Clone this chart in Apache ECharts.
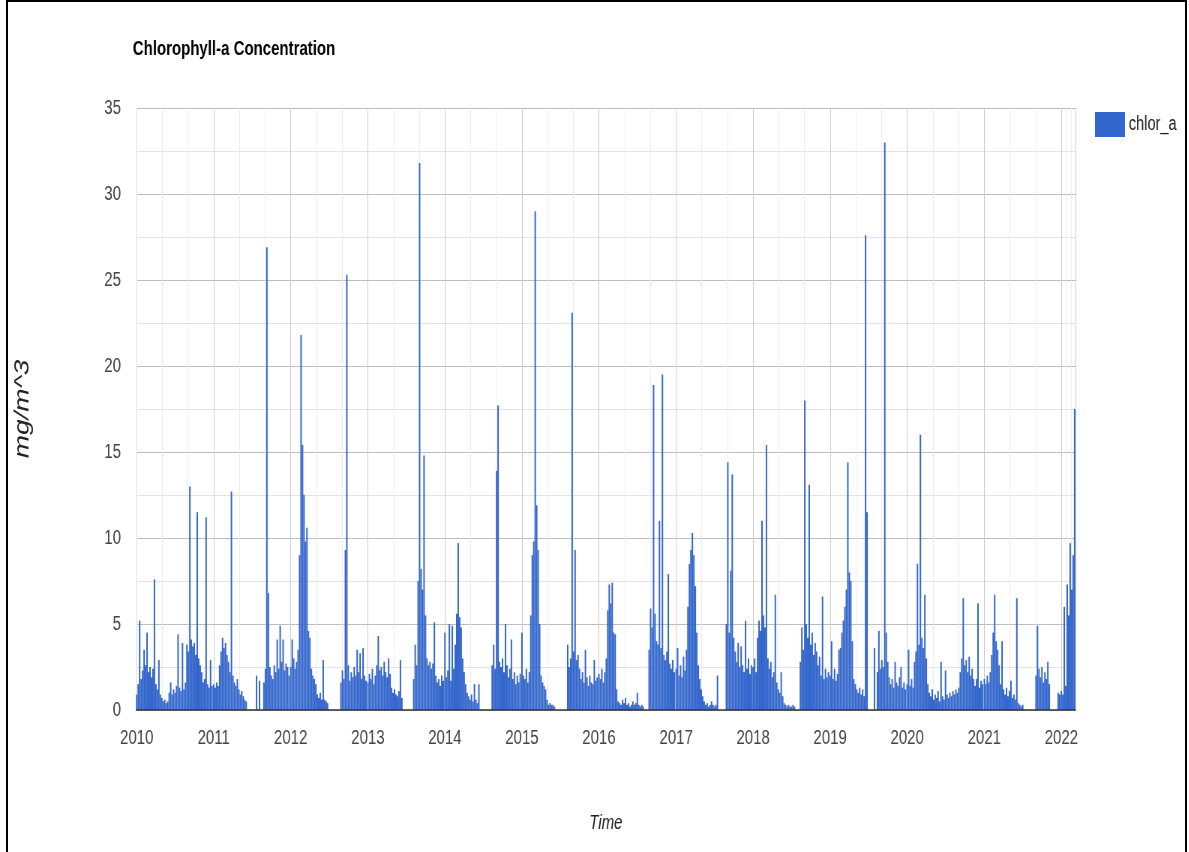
<!DOCTYPE html>
<html><head><meta charset="utf-8">
<script src="https://cdn.jsdelivr.net/npm/echarts@6/dist/echarts.min.js"></script>
<style>
html,body{margin:0;padding:0;background:#fff;overflow:hidden;width:1189px;height:852px;}
#chart{position:absolute;left:0;top:0;width:1585px;height:852px;transform:scaleX(0.75);transform-origin:0 0;}
#frame{position:absolute;left:6px;top:0;width:1181px;height:852px;border-left:2px solid #000;border-top:2px solid #000;border-right:2px solid #000;box-sizing:border-box;pointer-events:none;}
</style></head><body>
<div id="chart"></div><div id="frame"></div>
<script>
// Weekly chlorophyll-a values (mg/m^3), 52 weeks per year starting Jan 1; null = no data
const years = [2010,2011,2012,2013,2014,2015,2016,2017,2018,2019,2020,2021,2022];
const v2010 = [0.9,1.5,5.2,1.8,2.3,3.5,2.6,4.5,2.2,2.5,1.9,2.4,7.6,1.5,1.2,2.9,0.9,0.7,0.5,0.6,0.4,0.5,1.0,1.6,0.9,1.2,1.0,1.4,4.4,1.3,1.1,3.9,1.2,1.6,3.8,3.4,13.0,4.1,3.7,3.9,3.2,11.5,3.0,2.6,2.2,1.6,1.8,11.2,1.5,1.3,2.9,1.4];
const v2011 = [1.5,1.3,1.6,1.4,2.6,3.4,4.2,3.6,3.9,3.2,2.8,2.2,12.7,2.0,1.6,1.4,1.8,1.2,0.9,1.1,0.8,0.6,0.5,null,null,null,null,null,null,2.0,null,1.7,null,null,1.6,2.4,26.9,6.8,2.5,2.0,1.8,2.6,2.2,4.1,2.4,4.9,2.8,4.1,2.3,2.7,2.5,2.0];
const v2012 = [2.5,4.1,3.0,2.4,2.8,3.5,9.0,21.8,15.4,12.5,9.8,10.6,4.6,4.2,2.4,2.0,1.8,1.5,0.9,0.7,1.0,0.6,2.9,0.6,0.5,0.4,null,null,null,null,null,null,null,null,1.6,2.3,1.8,9.3,25.3,2.6,1.7,2.2,1.9,2.5,2.0,3.5,2.2,3.3,1.8,3.6,2.0,1.7];
const v2013 = [1.6,2.1,1.8,2.4,1.5,2.0,2.6,4.3,2.3,2.5,2.0,2.8,2.2,1.9,3.0,2.1,1.3,1.0,1.2,0.9,0.8,1.1,2.9,0.7,null,null,null,null,null,null,null,1.8,3.8,2.6,7.5,31.8,8.2,7.0,14.8,5.5,3.0,2.6,2.8,2.4,2.7,5.1,2.0,1.6,1.8,1.4,2.0,1.7];
const v2014 = [4.5,1.9,2.3,5.0,1.7,4.9,2.4,3.8,5.6,9.7,5.4,4.8,3.0,2.2,1.5,1.0,0.8,0.6,0.9,0.5,1.5,0.6,0.4,1.5,null,null,null,null,null,null,null,null,2.6,3.8,2.4,13.9,17.7,2.8,2.5,3.0,2.2,5.0,2.6,1.9,2.4,4.1,1.8,2.2,1.5,2.0,1.6,2.1];
const v2015 = [4.5,2.0,1.8,2.4,1.6,2.2,5.5,9.0,9.8,29.0,11.9,9.3,5.0,2.0,1.6,1.4,1.2,0.6,0.3,0.4,0.3,0.3,0.2,null,null,null,null,null,null,null,null,3.8,2.5,3.0,23.1,3.4,9.3,2.9,3.2,2.4,1.8,2.2,1.6,3.5,1.9,1.4,2.0,1.6,1.5,2.9,1.7,1.9];
const v2016 = [2.1,1.8,2.4,1.6,2.2,3.0,5.8,7.3,6.2,7.4,4.5,4.4,1.2,0.5,0.4,0.3,0.6,0.4,0.7,0.3,0.4,0.2,0.3,0.5,0.3,0.4,1.0,0.3,0.2,0.3,0.2,null,null,null,3.5,5.9,4.8,18.9,5.6,4.0,3.8,11.0,3.6,19.5,3.2,2.9,3.4,7.9,2.7,2.4,2.9,2.2];
const v2017 = [2.4,3.6,2.0,2.6,1.9,3.1,2.3,3.5,6.0,8.5,9.3,10.3,9.0,7.2,4.5,2.6,1.8,1.2,0.8,0.5,0.3,0.4,0.2,0.3,0.5,0.3,0.2,0.3,2.0,null,null,null,null,null,5.0,14.4,4.5,8.1,13.7,4.2,3.4,2.8,3.9,2.5,3.7,2.6,2.2,5.2,2.4,3.0,2.1,2.6];
const v2018 = [2.5,3.0,2.2,4.2,5.2,4.6,11.0,5.5,4.8,15.4,3.0,2.4,2.8,1.9,2.2,6.7,1.6,1.2,1.0,2.2,0.8,0.4,0.3,0.2,0.3,0.2,0.2,0.3,0.2,null,null,null,2.8,4.8,3.5,18.0,5.0,4.2,13.1,3.8,4.5,3.2,3.9,3.4,2.6,3.1,2.0,6.6,1.8,2.4,1.9,2.2];
const v2019 = [2.0,4.0,1.8,2.4,1.7,2.1,3.5,3.6,4.5,5.2,6.0,7.0,14.4,8.0,7.5,4.0,1.8,1.5,1.2,1.0,1.3,0.9,1.2,0.8,27.6,11.5,null,null,null,null,3.6,null,2.2,4.6,2.4,2.9,2.5,33.0,4.5,2.8,1.9,1.5,1.8,1.3,2.8,1.6,1.4,1.9,2.5,1.3,1.6,1.2];
const v2020 = [1.5,3.5,1.4,1.8,1.3,2.8,3.4,8.5,3.8,16.0,4.2,3.6,6.7,3.0,1.5,1.0,0.8,1.2,0.6,0.9,0.7,1.1,0.5,2.8,0.8,0.6,2.3,0.9,0.7,1.0,0.8,1.1,0.9,1.2,1.0,1.3,2.2,3.0,6.5,2.6,2.9,2.2,3.1,2.0,2.4,1.8,1.4,1.8,6.2,1.3,1.7,1.5];
const v2021 = [1.8,1.5,2.0,1.6,2.2,3.2,4.5,6.7,4.0,3.5,2.6,1.5,4.0,1.2,0.9,1.3,0.8,1.1,1.7,0.7,0.9,0.6,6.5,0.4,0.3,0.2,0.3,null,null,null,null,null,null,null,null,2.0,4.9,2.4,1.9,2.5,1.6,2.2,1.8,2.8,1.5,null,null,null,null,null,1.0,0.9];
const v2022 = [1.1,0.9,6.0,1.4,7.3,5.5,9.7,7.0,9.0,17.5];
const yearValues = [v2010,v2011,v2012,v2013,v2014,v2015,v2016,v2017,v2018,v2019,v2020,v2021,v2022];
const yTicks = [0,5,10,15,20,25,30,35];

const seriesData = [];
years.forEach((y, i) => {
  yearValues[i].forEach((v, w) => {
    if (v !== null) seriesData.push([new Date(y, 0, 1 + w * 7).getTime(), v]);
  });
});

const font = "'Liberation Sans', Arial, sans-serif";
const chart = echarts.init(document.getElementById('chart'));
chart.setOption({
  animation: false,
  backgroundColor: '#ffffff',
  title: {
    text: 'Chlorophyll-a Concentration',
    left: 172, top: 34,
    textStyle: {fontFamily: font, fontSize: 20, fontWeight: 'bold', color: '#000'}
  },
  legend: {
    data: ['chlor_a'],
    orient: 'vertical',
    left: 1455, top: 107,
    icon: 'rect', itemWidth: 40, itemHeight: 25, itemGap: 6,
    textStyle: {fontFamily: font, fontSize: 19.5, color: '#222'}
  },
  grid: {left: 181.3, right: 150.6, top: 108, bottom: 142, containLabel: false},
  xAxis: {
    type: 'time',
    min: new Date(2010, 0, 1).getTime(),
    max: new Date(2022, 2, 7).getTime(),
    minInterval: 365 * 86400000,
    maxInterval: 366 * 86400000,
    name: 'Time', nameLocation: 'middle', nameGap: 103,
    nameTextStyle: {fontFamily: font, fontSize: 20, fontStyle: 'italic', color: '#222'},
    axisLine: {show: false},
    axisTick: {show: false},
    axisLabel: {formatter: '{yyyy}', fontFamily: font, fontSize: 20, color: '#444', margin: 18, hideOverlap: false},
    splitLine: {show: true, lineStyle: {color: '#cccccc', width: 1}},
    minorTick: {show: false, splitNumber: 3},
    minorSplitLine: {show: true, lineStyle: {color: '#ececec', width: 1}}
  },
  yAxis: {
    type: 'value', min: 0, max: 35, interval: 5,
    name: 'mg/m^3', nameLocation: 'middle', nameGap: 137,
    nameTextStyle: {fontFamily: font, fontSize: 28, fontStyle: 'italic', color: '#222'},
    axisLine: {show: false},
    axisTick: {show: false},
    axisLabel: {fontFamily: font, fontSize: 20, color: '#444', margin: 20,
      formatter: v => yTicks.includes(v) ? String(v) : ''},
    splitLine: {show: true, lineStyle: {color: '#bdbdbd', width: 1}},
    minorTick: {show: false, splitNumber: 2},
    minorSplitLine: {show: true, lineStyle: {color: '#e3e3e3', width: 1}}
  },
  series: [{
    type: 'bar', name: 'chlor_a',
    data: seriesData,
    barWidth: '100%',
    itemStyle: {color: '#3366cc'},
    markLine: {
      silent: true, symbol: 'none', label: {show: false},
      lineStyle: {color: '#333', width: 1.5, type: 'solid'},
      data: [{yAxis: 0}]
    }
  }]
});
</script>
</body></html>
